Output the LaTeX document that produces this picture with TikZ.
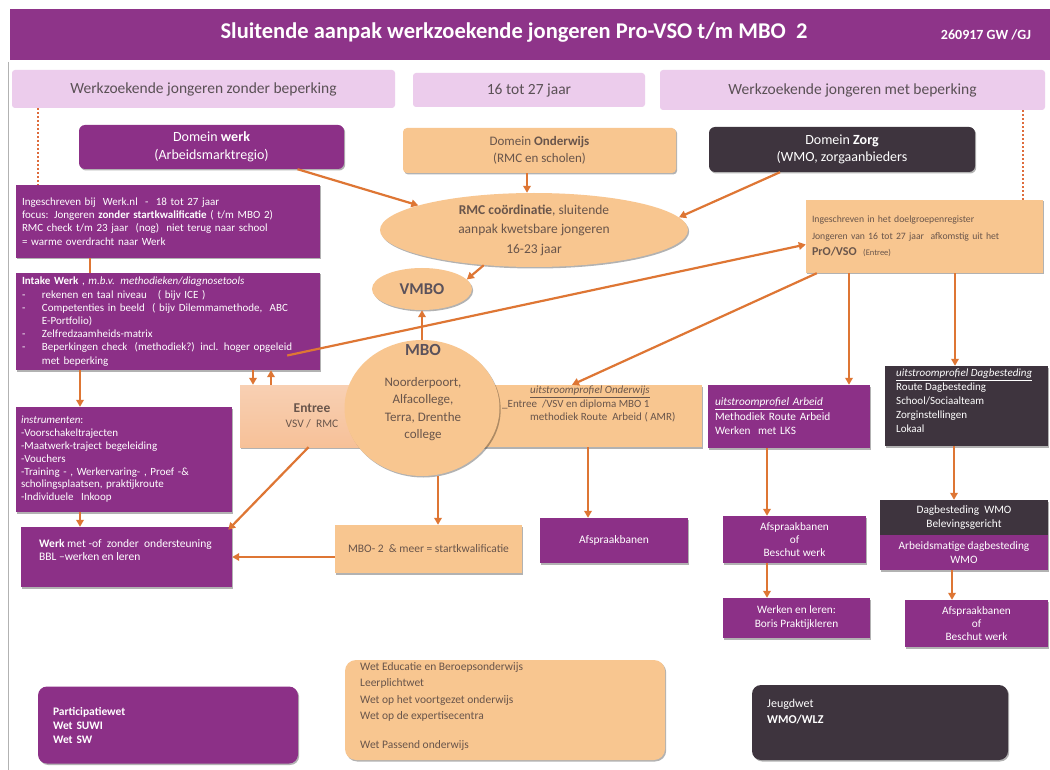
\documentclass[tikz,border=0pt]{standalone}
\usepackage{fontspec}
\setmainfont{Carlito}
\usetikzlibrary{arrows.meta,shadows,calc,shapes.geometric}
\definecolor{purp}{RGB}{140,48,135}
\definecolor{titlepurp}{RGB}{142,52,137}
\definecolor{pinkhdr}{RGB}{236,204,236}
\definecolor{tanc}{RGB}{248,198,144}
\definecolor{peach}{RGB}{246,196,160}
\definecolor{darkc}{RGB}{62,52,62}
\definecolor{arrc}{RGB}{222,118,52}
\definecolor{dotc}{RGB}{222,108,60}
\definecolor{tantext}{RGB}{105,85,75}
\definecolor{hdrtext}{RGB}{90,80,85}
\newcommand{\dashitem}[1]{\makebox[20pt][l]{-}#1}
\begin{document}
\begin{tikzpicture}[x=1pt,y=-1pt,
  shd/.style={drop shadow={shadow xshift=1.2pt,shadow yshift=-1.5pt,opacity=0.3,fill=black}},
  box/.style={rectangle,inner sep=0pt,draw=none,shd,font=\fontsize{11}{13.4}\selectfont},
  pbox/.style={box,fill=purp,text=white},
  obox/.style={box,fill=tanc,text=tantext},
  dbox/.style={box,fill=darkc,text=white},
  hdr/.style={rectangle,rounded corners=3pt,fill=pinkhdr,text=hdrtext,font=\fontsize{15.5}{17}\selectfont},
  arr/.style={draw=arrc,line width=2.2pt,-{Triangle[length=7pt,width=7.5pt]}},
  plain/.style={draw=arrc,line width=2.2pt},
  dotline/.style={draw=dotc,line width=2pt,dotted}
]
\useasboundingbox (0,0) rectangle (1050,770);
\fill[white] (0,0) rectangle (1050,770);
\draw[black!30,line width=0.6pt] (8,62) -- (8,770);

% title
\node[rectangle,fill=titlepurp,minimum width=1040pt,minimum height=51pt,inner sep=0pt] (bar) at (530,34.5) {};
\node[text=white,font=\fontsize{22.5}{25}\selectfont\bfseries] (ttl) at (514,33) {Sluitende aanpak werkzoekende jongeren Pro-VSO t/m MBO\ \ 2};
\node[text=white,font=\fontsize{14}{16}\selectfont\bfseries] (date) at (986,35) {260917 GW /GJ};

% headers
\node[hdr,minimum width=383pt,minimum height=38pt] (hdrL) at (203.5,89) {Werkzoekende jongeren zonder beperking};
\node[hdr,minimum width=232pt,minimum height=34pt] (hdrM) at (529,90) {16 tot 27 jaar};
\node[hdr,minimum width=385pt,minimum height=40pt] (hdrR) at (852.5,90) {Werkzoekende jongeren met beperking};

% domains
\node[pbox,rounded corners=6pt,minimum width=265pt,minimum height=44pt,align=center,font=\fontsize{14}{17.5}\selectfont] (dwerk) at (211.5,147) {Domein \textbf{werk}\\(Arbeidsmarktregio)};
\node[obox,rounded corners=4pt,minimum width=273pt,minimum height=45pt,align=center,font=\fontsize{13}{17}\selectfont] (donder) at (539.5,150.5) {Domein \textbf{Onderwijs}\\(RMC en scholen)};
\node[dbox,rounded corners=6pt,minimum width=266pt,minimum height=45pt,align=center,font=\fontsize{14}{17}\selectfont] (dzorg) at (842,149.5) {Domein \textbf{Zorg}\\(WMO, zorgaanbieders};

% left column
\node[pbox,minimum width=304pt,minimum height=73pt,text width=292pt,align=left] (ins) at (168,221.5)
 {Ingeschreven bij\ \ Werk.nl\ \ -\ \ 18 tot 27 jaar\\
  focus: Jongeren \textbf{zonder startkwalificatie} ( t/m MBO 2)\\
  RMC check t/m 23 jaar\ \ (nog)\ \ niet terug naar school\\
  = warme overdracht naar Werk};
\node[pbox,minimum width=304pt,minimum height=97pt,text width=292pt,align=left,font=\fontsize{11}{13.2}\selectfont] (intake) at (168,321.5)
 {\textbf{Intake Werk} , \textit{m.b.v. methodieken/diagnosetools}\\
  \dashitem{rekenen en taal niveau\ \ \ ( bijv ICE )}\\
  \dashitem{Competenties in beeld\ \ ( bijv Dilemmamethode,\ \ ABC}\\
  \hspace*{20pt}E-Portfolio)\\
  \dashitem{Zelfredzaamheids-matrix}\\
  \dashitem{Beperkingen check\ \ (methodiek?) incl. hoger opgeleid}\\
  \hspace*{20pt}met beperking};
\node[pbox,minimum width=216pt,minimum height=105pt,text width=206pt,align=left,font=\fontsize{11}{12.8}\selectfont] (instr) at (124,459.5)
 {\textit{instrumenten}:\\
  -Voorschakeltrajecten\\
  -Maatwerk-traject begeleiding\\
  -Vouchers\\
  -Training - , Werkervaring- , Proef -\&\\
  scholingsplaatsen, praktijkroute\\
  -Individuele\ \ Inkoop};
\node[pbox,minimum width=211pt,minimum height=60pt] (werkmet) at (126.5,557) {};
\node[text=white,anchor=north west,inner sep=0pt,align=left,font=\fontsize{11.5}{13.5}\selectfont] (werkmetT) at (39,539)
 {\textbf{Werk} met -of\ \ zonder\ \ ondersteuning\\BBL --werken en leren};

% center
\node[ellipse,inner sep=0pt,fill=tanc,shd,minimum width=308pt,minimum height=74pt,text=tantext,align=center,font=\fontsize{13.5}{19.5}\selectfont] (rmc) at (534,230)
 {\textbf{RMC coördinatie}, sluitende\\aanpak kwetsbare jongeren\\16-23 jaar};
\node[ellipse,inner sep=0pt,fill=tanc,shd,minimum width=100pt,minimum height=42pt,text=darkc!85,font=\fontsize{16.5}{18}\selectfont\bfseries] (vmbo) at (422,289) {VMBO};

\node[box,top color=peach!80!white,bottom color=peach!95!orange,minimum width=175pt,minimum height=62pt] (entree) at (327.5,416) {};
\node[text=tantext,align=center,inner sep=0pt,font=\fontsize{11.5}{15}\selectfont] (entreeT) at (312,416) {\textbf{\fontsize{13.5}{15}\selectfont Entree}\\VSV /\ \ RMC};
\node[obox,minimum width=262pt,minimum height=62pt] (onder) at (571,416) {};
\node[text=tantext,anchor=north west,inner sep=0pt,align=left,font=\fontsize{11}{13.5}\selectfont] (onderT) at (502,386)
 {\hspace*{28pt}\underline{\textit{uitstroomprofiel Onderwijs}}\\
  \_Entree\ \ /VSV en diploma MBO 1\\
  \hspace*{28pt}methodiek Route\ \ Arbeid ( AMR)};

\node[ellipse,inner sep=0pt,fill=tanc,shd,minimum width=155pt,minimum height=136pt] (mbo) at (422,408) {};
\node[text=tantext,align=center,inner sep=0pt,font=\fontsize{13}{17.5}\selectfont] (mboT) at (423,409)
 {Noorderpoort,\\Alfacollege,\\Terra, Drenthe\\college};
\node[text=darkc!85,inner sep=0pt,font=\fontsize{17}{18}\selectfont\bfseries] (mboL) at (423,350) {MBO};

\node[obox,minimum width=187pt,minimum height=48pt,font=\fontsize{11.5}{13}\selectfont] (mbo2) at (428.5,549) {MBO- 2\ \ \& meer = startkwalificatie};
\node[pbox,minimum width=148pt,minimum height=45pt,font=\fontsize{11.5}{13}\selectfont] (afsp1) at (614,540.5) {Afspraakbanen};

% right
\node[obox,minimum width=237pt,minimum height=73pt,text width=225pt,align=left,font=\fontsize{9.7}{16.5}\selectfont] (pro) at (924.5,236.5)
 {Ingeschreven in het doelgroepenregister\\
  Jongeren van 16 tot 27 jaar\ \ afkomstig uit het\\
  {\fontsize{12}{16.5}\selectfont\bfseries PrO/VSO}\ \ {\fontsize{8.5}{16.5}\selectfont (Entree)}};
\node[pbox,minimum width=162pt,minimum height=63pt,text width=148pt,align=left,font=\fontsize{11.3}{14.5}\selectfont] (arbeid) at (789,416.5)
 {\underline{\textit{uitstroomprofiel Arbeid}}\\Methodiek Route Arbeid\\Werken\ \ met LKS};
\node[dbox,minimum width=163pt,minimum height=80pt] (dag) at (966.5,406) {};
\node[text=white,anchor=north west,inner sep=0pt,align=left,font=\fontsize{11}{13.8}\selectfont] (dagT) at (896,369)
 {\underline{\textit{uitstroomprofiel Dagbesteding}}\\Route Dagbesteding\\School/Sociaalteam\\Zorginstellingen\\Lokaal};
\node[pbox,minimum width=143pt,minimum height=47pt,align=center,font=\fontsize{11.3}{13.3}\selectfont] (afsp2) at (794.5,539.5) {Afspraakbanen\\of\\Beschut werk};
\node[pbox,minimum width=147pt,minimum height=40pt,align=center,font=\fontsize{11.3}{14}\selectfont] (werkleren) at (796.5,618) {Werken en leren:\\Boris Praktijkleren};
\node[dbox,minimum width=168pt,minimum height=35pt,align=center,font=\fontsize{11.3}{14}\selectfont] (dagwmo) at (964,517.5) {Dagbesteding\ \ WMO\\Belevingsgericht};
\node[pbox,minimum width=168pt,minimum height=35pt,align=center,font=\fontsize{11.3}{14}\selectfont] (arbdag) at (964,552.5) {Arbeidsmatige dagbesteding\\WMO};
\node[pbox,minimum width=143pt,minimum height=47pt,align=center,font=\fontsize{11.3}{13.3}\selectfont] (afsp3) at (976.5,623.5) {Afspraakbanen\\of\\Beschut werk};

% laws
\node[pbox,rounded corners=9pt,minimum width=260pt,minimum height=77pt,text width=230pt,align=left,font=\fontsize{11.5}{14}\selectfont\bfseries] (part) at (168,725)
 {Participatiewet\\Wet SUWI\\Wet SW};
\node[obox,rounded corners=11pt,minimum width=320pt,minimum height=100pt] (wet) at (505,710) {};
\node[text=tantext,anchor=north west,inner sep=0pt,align=left,font=\fontsize{11.5}{16.5}\selectfont] (wetT) at (360,662)
 {Wet Educatie en Beroepsonderwijs\\Leerplichtwet\\Wet op het voortgezet onderwijs\\Wet op de expertisecentra\\[12pt]Wet Passend onderwijs};
\node[dbox,rounded corners=9pt,minimum width=256pt,minimum height=75pt] (jeugd) at (880,722.5) {};
\node[text=white,anchor=north west,inner sep=0pt,align=left,font=\fontsize{12}{15.5}\selectfont] (jeugdT) at (767,699)
 {Jeugdwet\\\textbf{WMO/WLZ}};

% named x/y positions for connectors
\coordinate (xd1) at (38,0);
\coordinate (xd2) at (1023,0);
\coordinate (x2) at (527,0);
\coordinate (x7) at (572,0);
\coordinate (x8) at (849,0);
\coordinate (x9) at (955,0);
\coordinate (x10a) at (253,0);
\coordinate (x10b) at (271,0);
\coordinate (x11) at (80,0);
\coordinate (x15) at (438,0);
\coordinate (x16) at (588,0);
\coordinate (x17) at (767,0);
\coordinate (x19) at (954,0);
\coordinate (x20) at (952,0);
\coordinate (x21) at (90,0);
\coordinate (y14) at (0,557);

% dotted lines
\draw[dotline] (hdrL.south -| xd1) -- (ins.north -| xd1);
\draw[dotline] (hdrR.south -| xd2) -- (pro.north -| xd2);

% connectors
\draw[arr] ([xshift=86pt]dwerk.south) -- (rmc.168);
\draw[arr] (donder.south -| x2) -- (rmc.north -| x2);
\draw[arr] ([xshift=-62pt]dzorg.south) -- (rmc.5);
\draw[arr] (rmc.215) -- (vmbo.12);
\draw[arr] (mbo.north) -- (vmbo.south);
\draw[arr] ([xshift=-33pt,yshift=-34pt]intake.east) -- ([yshift=-8pt]pro.west);
\draw[arr] ([xshift=11pt]pro.south west) -- (onder.north -| x7);
\draw[arr] (pro.south -| x8) -- (arbeid.north -| x8);
\draw[arr] (pro.south -| x9) -- (dag.north -| x9);
\draw[plain] (ins.south -| x21) -- (intake.north -| x21);
\draw[arr] (intake.south -| x10a) -- (entree.north -| x10a);
\draw[arr] (entree.north -| x10b) -- (intake.south -| x10b);
\draw[arr] (intake.south -| x11) -- (instr.north -| x11);
\draw[arr] (instr.south -| x11) -- (werkmet.north -| x11);
\draw[arr] ([xshift=-19pt]entree.south) -- ([xshift=-4pt,yshift=-3pt]werkmet.north east);
\draw[arr] (mbo2.west |- y14) -- (werkmet.east |- y14);
\draw[arr] (mbo.south -| x15) -- (mbo2.north -| x15);
\draw[arr] (onder.south -| x16) -- (afsp1.north -| x16);
\draw[arr] (arbeid.south -| x17) -- (afsp2.north -| x17);
\draw[arr] (afsp2.south -| x17) -- (werkleren.north -| x17);
\draw[arr] (dag.south -| x19) -- (dagwmo.north -| x19);
\draw[arr] (arbdag.south -| x20) -- (afsp3.north -| x20);
\end{tikzpicture}
\end{document}
